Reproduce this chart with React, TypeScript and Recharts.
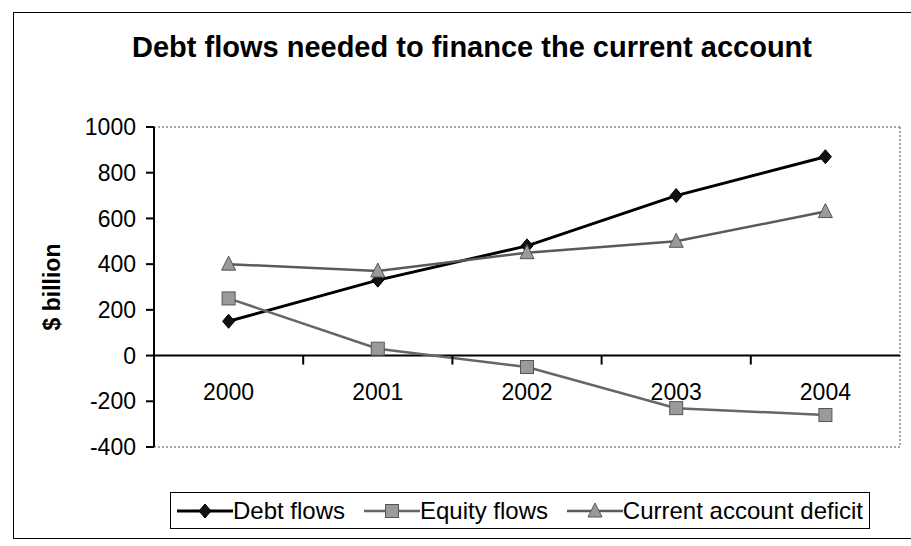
import { LineChart, Line, XAxis, YAxis, Legend, ReferenceLine, CartesianGrid } from 'recharts';

// values ($ billion)
const years = ['2000', '2001', '2002', '2003', '2004'];
const debtFlows = [150, 330, 480, 700, 870];
const equityFlows = [250, 30, -50, -230, -260];
const currentAccountDeficit = [400, 370, 450, 500, 630];
const yTicks = [-400, -200, 0, 200, 400, 600, 800, 1000];

const data = years.map((year, i) => ({
  year,
  debt: debtFlows[i],
  equity: equityFlows[i],
  deficit: currentAccountDeficit[i],
}));

const W = 911;
const H = 546;
const PLOT_LEFT = 154;
const PLOT_TOP = 127;
const PLOT_RIGHT = 900;
const PLOT_BOTTOM = 447;
const Y_MIN = -400;
const Y_MAX = 1000;
const YAXIS_W = 60;
const XAXIS_H = 30;
const FONT = '"Liberation Sans", Arial, sans-serif';

const plotW = PLOT_RIGHT - PLOT_LEFT;
const band = plotW / years.length;
const zeroY = PLOT_TOP + (PLOT_BOTTOM - PLOT_TOP) * (Y_MAX / (Y_MAX - Y_MIN));

type Shape = 'diamond' | 'square' | 'triangle';

const drawMarker = (shape: Shape, cx: number, cy: number, key?: number | string) => {
  if (shape === 'diamond') {
    return (
      <polygon key={key} points={`${cx},${cy - 7} ${cx + 6},${cy} ${cx},${cy + 7} ${cx - 6},${cy}`}
        fill="#111" stroke="#000" strokeWidth={1} />
    );
  }
  if (shape === 'square') {
    return <rect key={key} x={cx - 6.5} y={cy - 6.5} width={13} height={13} fill="#9a9a9a" stroke="#555" strokeWidth={1} />;
  }
  return (
    <polygon key={key} points={`${cx},${cy - 8} ${cx + 7},${cy + 6} ${cx - 7},${cy + 6}`}
      fill="#9a9a9a" stroke="#555" strokeWidth={1} />
  );
};

const series: { key: string; name: string; color: string; width: number; shape: Shape }[] = [
  { key: 'debt', name: 'Debt flows', color: '#000', width: 3, shape: 'diamond' },
  { key: 'equity', name: 'Equity flows', color: '#666', width: 2.5, shape: 'square' },
  { key: 'deficit', name: 'Current account deficit', color: '#5a5a5a', width: 2.5, shape: 'triangle' },
];

// category labels sit under the zero line, with tick marks between categories
const XTick = (props: any) => {
  const { x, index } = props;
  return (
    <g>
      {index < years.length - 1 && (
        <line x1={x + band / 2} x2={x + band / 2} y1={zeroY} y2={zeroY + 9} stroke="#000" strokeWidth={2} />
      )}
      <text x={x} y={zeroY + 44} textAnchor="middle" fontSize={23} fontFamily={FONT} fill="#000">
        {props.payload.value}
      </text>
    </g>
  );
};

const LegendBox = () => (
  <div
    style={{
      border: '1.5px solid #000',
      height: 37,
      boxSizing: 'border-box',
      display: 'flex',
      alignItems: 'center',
      justifyContent: 'space-between',
      padding: '0 6px',
      fontFamily: FONT,
      fontSize: 24,
      color: '#000',
      background: '#fff',
    }}
  >
    {series.map((s) => (
      <span key={s.key} style={{ display: 'flex', alignItems: 'center' }}>
        <svg width={56} height={20}>
          <line x1={0} x2={56} y1={10} y2={10} stroke={s.color} strokeWidth={s.width} />
          {drawMarker(s.shape, 28, 10)}
        </svg>
        <span style={{ whiteSpace: 'nowrap' }}>{s.name}</span>
      </span>
    ))}
  </div>
);

export default function App() {
  return (
    <div style={{ position: 'absolute', left: 0, top: 0, width: W, height: H, overflow: 'hidden', background: '#fff' }}>
      <div
        style={{
          position: 'absolute',
          left: 13,
          top: 12,
          width: W,
          height: 525,
          borderLeft: '1.5px solid #000',
          borderTop: '1.5px solid #000',
          borderBottom: '1.5px solid #000',
        }}
      />
      <div
        style={{
          position: 'absolute',
          left: 472,
          top: 31,
          transform: 'translateX(-50%)',
          whiteSpace: 'nowrap',
          fontFamily: FONT,
          fontWeight: 'bold',
          fontSize: 29,
          color: '#000',
        }}
      >
        Debt flows needed to finance the current account
      </div>
      <div style={{ position: 'absolute', left: 0, top: 0 }}>
        <LineChart
          width={W}
          height={H}
          data={data}
          margin={{ top: PLOT_TOP, right: W - PLOT_RIGHT, left: PLOT_LEFT - YAXIS_W, bottom: H - PLOT_BOTTOM - XAXIS_H }}
        >
          {/* dotted frame round the plot area */}
          <CartesianGrid
            horizontalPoints={[PLOT_TOP, PLOT_BOTTOM]}
            verticalPoints={[PLOT_RIGHT]}
            stroke="#8a8a8a"
            strokeDasharray="2 2"
            strokeWidth={1.5}
          />
          <XAxis
            dataKey="year"
            height={XAXIS_H}
            axisLine={false}
            tickLine={false}
            tick={<XTick />}
            interval={0}
            padding={{ left: band / 2, right: band / 2 }}
          />
          <YAxis
            width={YAXIS_W}
            domain={[Y_MIN, Y_MAX]}
            ticks={yTicks}
            allowDataOverflow
            axisLine={{ stroke: '#000', strokeWidth: 2 }}
            tickLine={{ stroke: '#000', strokeWidth: 2 }}
            tickSize={8}
            tickMargin={10}
            tick={{ fontSize: 23, fontFamily: FONT, fill: '#000' }}
            label={{
              content: ({ viewBox }: any) => (
                <text
                  x={52}
                  y={viewBox.y + viewBox.height / 2}
                  transform={`rotate(-90, 52, ${viewBox.y + viewBox.height / 2})`}
                  textAnchor="middle"
                  dominantBaseline="central"
                  fontSize={23}
                  fontWeight="bold"
                  fontFamily={FONT}
                  fill="#000"
                >
                  $ billion
                </text>
              ),
            }}
          />
          <ReferenceLine y={0} stroke="#000" strokeWidth={2} />
          {series.map((s) => (
            <Line
              key={s.key}
              dataKey={s.key}
              name={s.name}
              type="linear"
              stroke={s.color}
              strokeWidth={s.width}
              dot={(p: any) => drawMarker(s.shape, p.cx, p.cy, p.index)}
              activeDot={false}
              isAnimationActive={false}
            />
          ))}
          <Legend
            verticalAlign="middle"
            align="center"
            content={() => <LegendBox />}
            wrapperStyle={{ top: 492, left: 170, width: 700, height: 37 }}
          />
        </LineChart>
      </div>
    </div>
  );
}
